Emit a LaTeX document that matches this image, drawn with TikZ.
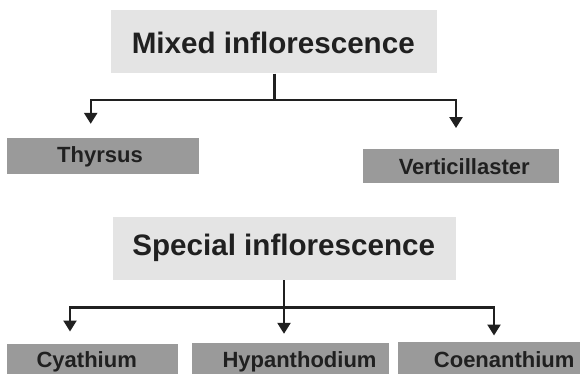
\documentclass[tikz,border=0pt]{standalone}
\usepackage{fontspec}
\setmainfont{Liberation Sans}
\usetikzlibrary{arrows.meta}
\definecolor{lightbox}{HTML}{E4E4E4}
\definecolor{darkbox}{HTML}{9A9A9A}
\definecolor{ink}{HTML}{202020}
\begin{document}
\begin{tikzpicture}[x=1pt,y=-1pt,
  headbox/.style={fill=lightbox, inner sep=0pt},
  headtext/.style={inner sep=0pt, anchor=base, text=ink,
    font=\bfseries\fontsize{29.6}{34}\selectfont},
  leafbox/.style={fill=darkbox, inner sep=0pt},
  leaftext/.style={inner sep=0pt, anchor=base, text=ink,
    font=\bfseries\fontsize{22}{26}\selectfont},
  conn/.style={line width=2.4pt, draw=ink},
  arr/.style={conn, -{Triangle[width=13pt,length=11pt]}}]
\clip (0,0) rectangle (580,374);
\fill[white] (0,0) rectangle (580,374);
% upper tree
\node[headbox, minimum width=325.7pt, minimum height=63.3pt] (mixed) at (273.8,41.7) {};
\node[headtext] (mixedT) at (273.3,53.3) {Mixed inflorescence};
\node[leafbox, minimum width=191.7pt, minimum height=35.7pt] (thy) at (103.2,156.2) {};
\node[leaftext] (thyT) at (100,162.3) {Thyrsus};
\node[leafbox, minimum width=196pt, minimum height=33.7pt] (ver) at (461.3,165.8) {};
\node[leaftext] (verT) at (464.2,174) {Verticillaster};
\coordinate (mj) at (274.3,100);
\draw[conn] (mixed.south -| mj) -- (mj);
\draw[arr, shorten >=14.3pt] (mj) -| ([xshift=-12.5pt]thy.north);
\draw[arr, shorten >=20.7pt] (mj) -| ([xshift=-5.3pt]ver.north);
% lower tree
\node[headbox, minimum width=343pt, minimum height=63.3pt] (special) at (284.2,248.3) {};
\node[headtext] (specialT) at (283.7,255.7) {Special inflorescence};
\node[leafbox, minimum width=170.4pt, minimum height=35.4pt] (cya) at (92.5,362) {};
\node[leaftext] (cyaT) at (86.7,367.5) {Cyathium};
\node[leafbox, minimum width=196.7pt, minimum height=37.6pt] (hyp) at (290.7,361.5) {};
\node[leaftext] (hypT) at (299.5,367) {Hypanthodium};
\node[leafbox, minimum width=202.3pt, minimum height=40pt] (coe) at (498.8,361.7) {};
\node[leaftext] (coeT) at (504.2,367) {Coenanthium};
\coordinate (sj) at (284,307.3);
\draw[arr, shorten >=8.7pt] (special.south -| sj) -- ([xshift=-6.7pt]hyp.north);
\draw[arr, shorten >=12.6pt] (sj) -| ([xshift=-22.5pt]cya.north);
\draw[arr, shorten >=6pt] (sj) -| ([xshift=-4.8pt]coe.north);
\end{tikzpicture}
\end{document}
